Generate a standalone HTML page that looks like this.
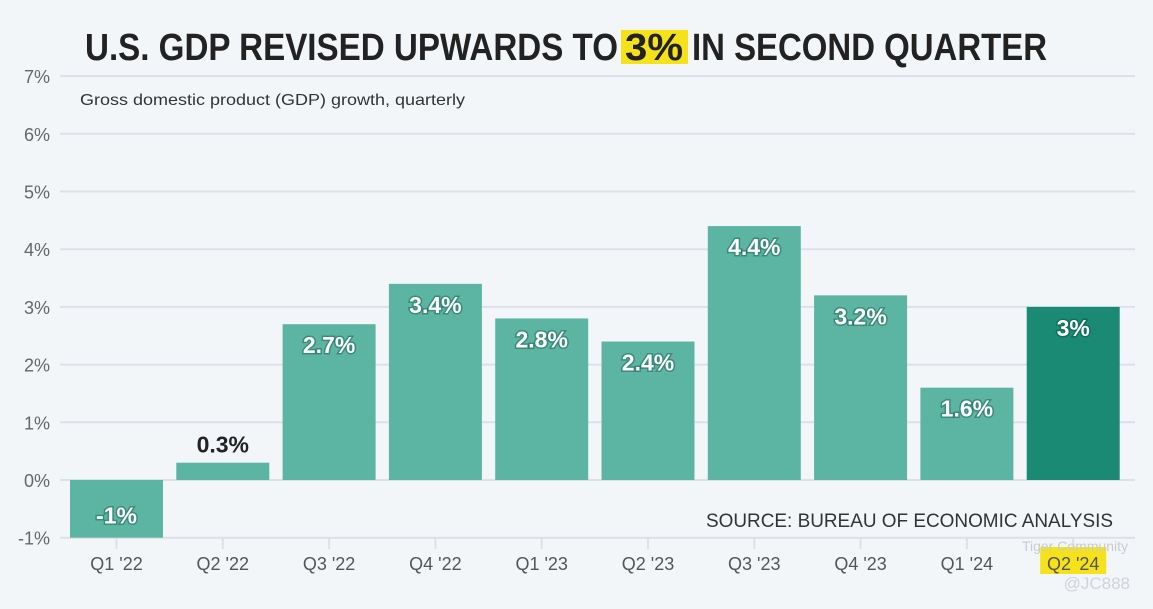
<!DOCTYPE html>
<html><head><meta charset="utf-8"><style>
body{margin:0;background:#f3f6f9;}
svg{display:block;font-family:"Liberation Sans",sans-serif;}
</style></head><body>
<svg id="chart" width="1153" height="609" viewBox="0 0 1153 609">
<rect x="0" y="0" width="1153" height="609" fill="#f3f6f9"/>
<g font-family="'Liberation Sans Narrow','Liberation Sans',sans-serif" font-weight="bold" font-size="38" fill="#222">
<text x="85" y="60" textLength="533" lengthAdjust="spacingAndGlyphs">U.S. GDP REVISED UPWARDS TO</text>
<rect x="621" y="30" width="67" height="34" fill="#f5e21b"/>
<text x="625" y="60" textLength="58" lengthAdjust="spacingAndGlyphs">3%</text>
<text x="692" y="60" textLength="355" lengthAdjust="spacingAndGlyphs">IN SECOND QUARTER</text>
</g>
<g id="grid"></g>
<text x="80" y="105" font-size="16" fill="#333" textLength="385" lengthAdjust="spacingAndGlyphs">Gross domestic product (GDP) growth, quarterly</text>
<g id="bars"></g>
<text x="706" y="527" font-size="19" fill="#333" textLength="407" lengthAdjust="spacingAndGlyphs">SOURCE: BUREAU OF ECONOMIC ANALYSIS</text>
<g id="xaxis"></g>
<text x="1128" y="551" font-size="14" fill="#c8ccd0" text-anchor="end">Tiger Community</text>
<text x="1130" y="589" font-size="17" fill="#d0d4d8" text-anchor="end">@JC888</text>
</svg>
<script>
const categories=["Q1 '22","Q2 '22","Q3 '22","Q4 '22","Q1 '23","Q2 '23","Q3 '23","Q4 '23","Q1 '24","Q2 '24"];
const values=[-1,0.3,2.7,3.4,2.8,2.4,4.4,3.2,1.6,3];
const valueLabels=["-1%","0.3%","2.7%","3.4%","2.8%","2.4%","4.4%","3.2%","1.6%","3%"];
const yTicks=[-1,0,1,2,3,4,5,6,7];
const yTickLabels=["-1%","0%","1%","2%","3%","4%","5%","6%","7%"];
const NS="http://www.w3.org/2000/svg";
const y=v=>480-v*57.7;
const xStart=70, step=106.3, bw=93;
const x=i=>xStart+i*step;
function mk(tag,attrs,parent,txt){const e=document.createElementNS(NS,tag);for(const k in attrs)e.setAttribute(k,attrs[k]);if(txt!==undefined)e.textContent=txt;parent.appendChild(e);return e;}
const grid=document.getElementById('grid');
yTicks.forEach((t,i)=>{
  const l=mk('line',{x1:60,x2:1135,y1:y(t),y2:y(t),stroke:'#dde1e5','stroke-width':2},grid);
  
  
  const tx=mk('text',{x:50,y:y(t)+7,'font-size':18,fill:'#666','text-anchor':'end'},grid,yTickLabels[i]);
  
  
});
const bars=document.getElementById('bars');
values.forEach((v,i)=>{
  const last=i===values.length-1;
  const top=Math.min(y(v),y(0)), h=Math.abs(y(v)-y(0));
  const r=mk('rect',{x:x(i),y:top,width:bw,height:h,fill:last?'#1b8a74':'#5bb5a2'},bars);
  
  
  let ly, col='#fff';
  if(v<0){ly=y(v)-14;}
  else if(h<40){ly=top-10;col='#222';}
  else ly=top+29;
  const t=mk('text',{x:x(i)+bw/2,y:ly,'font-size':23,'font-weight':'bold',fill:col,'text-anchor':'middle',style:col==='#fff'?'paint-order:stroke;stroke:rgba(0,60,50,0.35);stroke-width:3px':''},bars,valueLabels[i]);
  
  
});
const xa=document.getElementById('xaxis');
categories.forEach((c,i)=>{
  const cx=x(i)+bw/2;
  const tk=mk('line',{x1:cx,x2:cx,y1:538,y2:549,stroke:'#dde1e5','stroke-width':2},xa);
  
  
  if(i===categories.length-1){
    const hl=mk('rect',{x:cx-33,y:547,width:66,height:27,fill:'#f5e21b'},xa);
    
    
  }
  const t=mk('text',{x:cx,y:570,'font-size':18,fill:'#555','text-anchor':'middle'},xa,c);
  
  
});
</script>
</body></html>
